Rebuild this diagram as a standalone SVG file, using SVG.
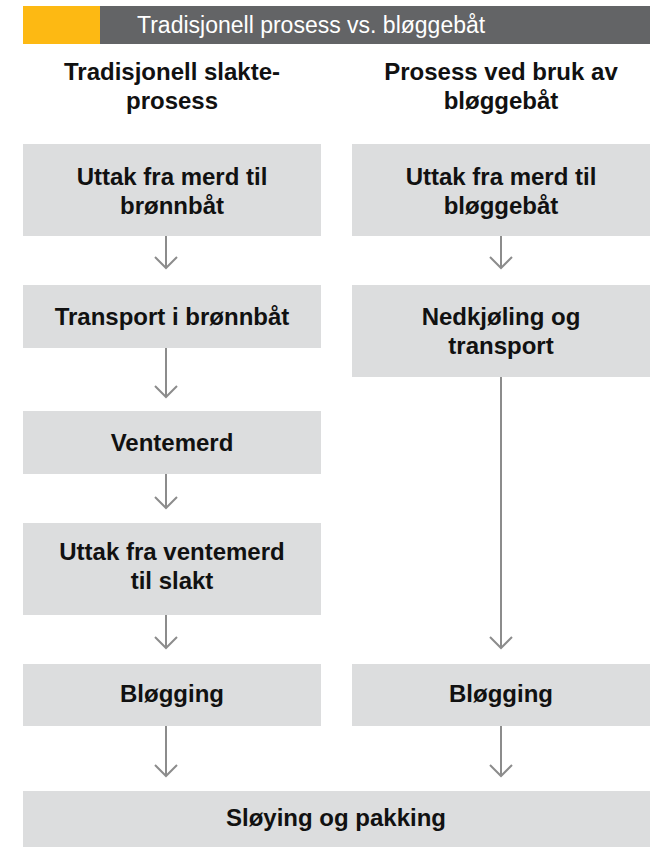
<svg xmlns="http://www.w3.org/2000/svg" width="657" height="847" viewBox="0 0 657 847">
<defs>
<style>
.box{fill:#DCDDDE;}
.t{font-family:"Liberation Sans",Arial,sans-serif;font-weight:bold;font-size:24px;fill:#111;text-anchor:middle;}
.h{font-family:"Liberation Sans",Arial,sans-serif;font-size:23px;fill:#fff;}
.c{stroke:#8C8C8C;stroke-width:2;fill:none;}
</style>
</defs>
<g id="header">
<rect x="23" y="6" width="77" height="38" fill="#FDB913"/>
<rect x="100" y="6" width="550" height="38" fill="#636466"/>
<text class="h" x="137" y="33">Tradisjonell prosess vs. bløggebåt</text>
</g>
<g id="title-left"><text class="t" x="172" y="80">Tradisjonell slakte-</text><text class="t" x="172" y="109">prosess</text></g>
<g id="title-right"><text class="t" x="501" y="80">Prosess ved bruk av</text><text class="t" x="501" y="109">bløggebåt</text></g>

<g id="L1"><rect class="box" x="23" y="144" width="298" height="92"/><text class="t" x="172" y="185">Uttak fra merd til</text><text class="t" x="172" y="214">brønnbåt</text></g>
<g id="L2"><rect class="box" x="23" y="285" width="298" height="63"/><text class="t" x="172" y="325">Transport i brønnbåt</text></g>
<g id="L3"><rect class="box" x="23" y="411" width="298" height="63"/><text class="t" x="172" y="451">Ventemerd</text></g>
<g id="L4"><rect class="box" x="23" y="523" width="298" height="92"/><text class="t" x="172" y="560">Uttak fra ventemerd</text><text class="t" x="172" y="589">til slakt</text></g>
<g id="L5"><rect class="box" x="23" y="664" width="298" height="62"/><text class="t" x="172" y="702">Bløgging</text></g>

<g id="R1"><rect class="box" x="352" y="144" width="298" height="92"/><text class="t" x="501" y="185">Uttak fra merd til</text><text class="t" x="501" y="214">bløggebåt</text></g>
<g id="R2"><rect class="box" x="352" y="285" width="298" height="92"/><text class="t" x="501" y="325">Nedkjøling og</text><text class="t" x="501" y="354">transport</text></g>
<g id="R5"><rect class="box" x="352" y="664" width="298" height="62"/><text class="t" x="501" y="702">Bløgging</text></g>

<g id="B"><rect class="box" x="23" y="791" width="627" height="56"/><text class="t" x="336" y="826">Sløying og pakking</text></g>

<g id="connectors">
<path class="c" d="M166 236V268M155 257L166 268L177 257"/>
<path class="c" d="M166 348V397M155 386L166 397L177 386"/>
<path class="c" d="M166 474V508M155 497L166 508L177 497"/>
<path class="c" d="M166 615V648M155 637L166 648L177 637"/>
<path class="c" d="M166 726V776M155 765L166 776L177 765"/>
<path class="c" d="M501 236V268M490 257L501 268L512 257"/>
<path class="c" d="M501 377V648M490 637L501 648L512 637"/>
<path class="c" d="M501 726V776M490 765L501 776L512 765"/>
</g>
</svg>
